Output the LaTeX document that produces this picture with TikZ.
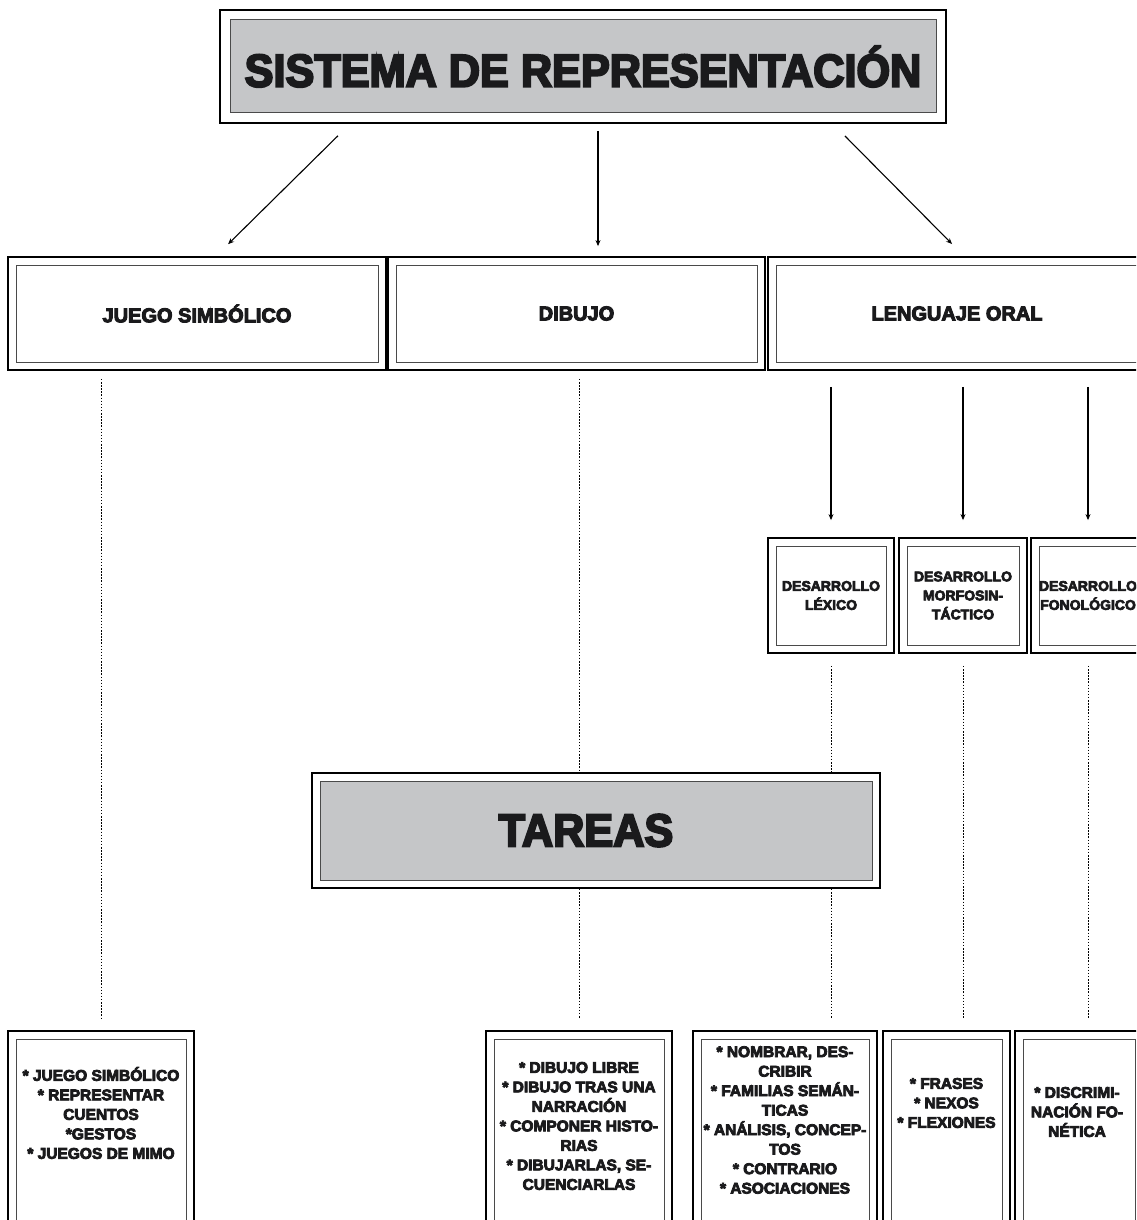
\documentclass[tikz,border=0pt]{standalone}
\usepackage{fontspec}
\setmainfont{Liberation Sans}
\newfontfamily\titlefont[UprightFont=* Bold,FakeStretch=0.94,FakeBold=4.5]{Liberation Sans}
\newfontfamily\boxfont[UprightFont=* Bold,FakeBold=5]{Liberation Sans}
\usetikzlibrary{arrows.meta,calc}
\definecolor{innergray}{HTML}{4A4A4A}
\definecolor{boxgray}{HTML}{C5C6C8}
\definecolor{inkblack}{HTML}{1A1A1C}
\tikzset{
  outerbox/.style={rectangle, draw=black, line width=1.8pt, fill=white, inner sep=0pt, align=center, text=inkblack},
  inset/.style 2 args={path picture={\draw[line width=1pt, draw=innergray, fill=#1]
      ([shift={(#2pt,-#2pt)}]path picture bounding box.north west) rectangle
      ([shift={(-#2pt,#2pt)}]path picture bounding box.south east);}},
  bigbox/.style={outerbox, inset={boxgray}{10}, font=\titlefont\fontsize{46}{50}\selectfont},
  midbox/.style={outerbox, inset={white}{8}, font=\boxfont\fontsize{20}{24}\selectfont},
  smallbox/.style={outerbox, inset={white}{8}, font=\boxfont\fontsize{14}{19}\selectfont},
  taskbox/.style={outerbox, inset={white}{8}},
  tasktext/.style={align=center, inner sep=0pt, text=inkblack, font=\boxfont\fontsize{15.5}{19.5}\selectfont},
  arr/.style={-{Stealth[length=6pt,width=5pt]}, line width=1.1pt},
  dots/.style={line width=0.8pt, dash pattern=on 1.5pt off 1.6pt}
}
\begin{document}
\begin{tikzpicture}[x=1pt,y=-1pt]
\useasboundingbox (0,0) rectangle (1136,1220);
\clip (0,0) rectangle (1136,1220);
\fill[white] (0,0) rectangle (1136,1220);

% title
\node[bigbox, minimum width=726pt, minimum height=113pt] (title) at (583,66.5) {SISTEMA DE REPRESENTACIÓN};

% level 2
\node[midbox, minimum width=378pt, minimum height=113pt] (js) at (197,313.5) {JUEGO SIMBÓLICO};
\node[midbox, minimum width=377pt, minimum height=113pt] (dib) at (576.5,313.5) {DIBUJO};
\node[midbox, minimum width=378pt, minimum height=113pt] (lo) at (957,313.5) {LENGUAJE ORAL};

% small boxes
\node[smallbox, minimum width=126pt, minimum height=115pt] (sb1) at (831,595.5) {DESARROLLO\\LÉXICO};
\node[smallbox, minimum width=128pt, minimum height=115pt] (sb2) at (963,595.5) {DESARROLLO\\MORFOSIN-\\TÁCTICO};
\node[smallbox, minimum width=114pt, minimum height=115pt] (sb3) at (1088,595.5) {DESARROLLO\\FONOLÓGICO};

% tareas
\node[bigbox, inset={boxgray}{8}, minimum width=568pt, minimum height=115pt] (tareas) at (596,830.5) {\hspace*{-20pt}TAREAS};

% bottom boxes
\node[taskbox, minimum width=186pt, minimum height=219pt] (bA) at (101,1140.5) {};
\node[taskbox, minimum width=186pt, minimum height=219pt] (bB) at (579,1140.5) {};
\node[taskbox, minimum width=184pt, minimum height=219pt] (bC) at (785,1140.5) {};
\node[taskbox, minimum width=127pt, minimum height=219pt] (bD) at (946.5,1140.5) {};
\node[taskbox, minimum width=128pt, minimum height=219pt] (bE) at (1079,1140.5) {};

\node[tasktext] (tA) at (101,1113) {* JUEGO SIMBÓLICO\\* REPRESENTAR\\CUENTOS\\*GESTOS\\* JUEGOS DE MIMO};
\node[tasktext] (tB) at (579,1126) {* DIBUJO LIBRE\\* DIBUJO TRAS UNA\\NARRACIÓN\\* COMPONER HISTO-\\RIAS\\* DIBUJARLAS, SE-\\CUENCIARLAS};
\node[tasktext] (tC) at (785,1120) {* NOMBRAR, DES-\\CRIBIR\\* FAMILIAS SEMÁN-\\TICAS\\* ANÁLISIS, CONCEP-\\TOS\\* CONTRARIO\\* ASOCIACIONES};
\node[tasktext] (tD) at (946.5,1103) {* FRASES\\* NEXOS\\* FLEXIONES};
\node[tasktext] (tE) at (1077,1112) {* DISCRIMI-\\NACIÓN FO-\\NÉTICA};

% arrows from title
\draw[arr, shorten <=17pt, shorten >=17pt] ([xshift=-233pt]title.south) -- ([xshift=19pt]js.north);
\draw[arr, shorten <=7pt, shorten >=10pt] ([xshift=15pt]title.south) -- ([xshift=21.5pt]dib.north);
\draw[arr, shorten <=17pt, shorten >=17pt] ([xshift=250pt]title.south) -- ([xshift=7pt]lo.north);

% arrows from lenguaje oral
\draw[arr, shorten <=16pt, shorten >=17pt] (lo.south -| sb1.north) -- (sb1.north);
\draw[arr, shorten <=16pt, shorten >=17pt] (lo.south -| sb2.north) -- (sb2.north);
\draw[arr, shorten <=16pt, shorten >=17pt] (lo.south -| sb3.north) -- (sb3.north);

% dotted lines
\draw[dots, shorten <=8pt, shorten >=11pt] (js.south -| bA.north) -- (bA.north);
\draw[dots, shorten <=8pt] (dib.south -| bB.north) -- (tareas.north -| bB.north);
\draw[dots, shorten >=11pt] (tareas.south -| bB.north) -- (bB.north);
\draw[dots, shorten <=12pt] (sb1.south) -- (tareas.north -| sb1.south);
\draw[dots, shorten >=11pt] (tareas.south -| sb1.south) -- (bC.north -| sb1.south);
\draw[dots, shorten <=12pt, shorten >=11pt] (sb2.south) -- (bD.north -| sb2.south);
\draw[dots, shorten <=12pt, shorten >=11pt] (sb3.south) -- (bE.north -| sb3.south);
\end{tikzpicture}
\end{document}
